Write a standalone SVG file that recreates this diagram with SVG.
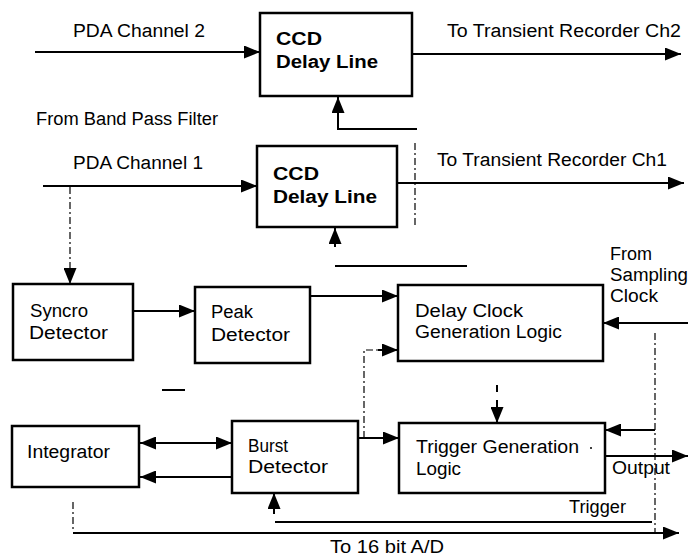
<svg xmlns="http://www.w3.org/2000/svg" width="688" height="557" viewBox="0 0 688 557">
<defs>
<marker id="ah" markerUnits="userSpaceOnUse" markerWidth="17" markerHeight="13" refX="16" refY="6.5" orient="auto-start-reverse">
<path d="M0,0 L16,6.5 L0,13 z" fill="#000"/>
</marker>
</defs>
<style>
.box{fill:#fff;stroke:#000;stroke-width:2.5}
.t{font-family:"Liberation Sans",Arial,sans-serif;font-size:18px;fill:#000}
.b{font-weight:bold;font-size:18px}
.w{fill:none;stroke:#000;stroke-width:2}
.d{fill:none;stroke:#000;stroke-width:1.2;stroke-dasharray:7 3 2 3}
.a{marker-end:url(#ah)}
.s{marker-start:url(#ah)}
</style>
<rect width="688" height="557" fill="#fff"/>

<g id="connectors">
<line class="w a" x1="35" y1="52" x2="260" y2="52"/>
<line class="w a" x1="412" y1="54" x2="681" y2="54"/>
<line class="w a" x1="43" y1="186" x2="257" y2="186"/>
<line class="w a" x1="397" y1="183" x2="684" y2="183"/>
<path class="w" d="M338,118 V129 H417"/>
<line class="w a" x1="338" y1="118" x2="338" y2="97"/>
<line class="d" x1="415" y1="143" x2="415" y2="228"/>
<line class="w a" x1="335" y1="247" x2="335" y2="228"/>
<line class="w" x1="335" y1="266" x2="467" y2="266"/>
<line class="d a" x1="70" y1="187" x2="70" y2="284"/>
<line class="w a" x1="133" y1="311" x2="195" y2="311"/>
<line class="w a" x1="310" y1="296" x2="398" y2="296"/>
<line class="w a" x1="688" y1="323" x2="603" y2="323"/>
<path class="d" d="M364,438 V350 H380"/>
<line class="w a" x1="378" y1="350" x2="398" y2="350"/>
<line class="w" x1="162" y1="390" x2="185" y2="390"/>
<line class="w" x1="497" y1="385" x2="497" y2="392"/>
<line class="w a" x1="497" y1="400" x2="497" y2="423"/>
<line class="w a s" x1="140" y1="443" x2="232" y2="443"/>
<line class="w a" x1="232" y1="477" x2="140" y2="477"/>
<line class="w a" x1="358" y1="438" x2="399" y2="438"/>
<line class="d" x1="655" y1="333" x2="655" y2="534"/>
<line class="w a" x1="655" y1="430" x2="605" y2="430"/>
<line class="w a" x1="605" y1="456" x2="688" y2="456"/>
<line class="w" x1="275" y1="522" x2="652" y2="522"/>
<line class="w a" x1="274" y1="514" x2="274" y2="493"/>
<line class="d" x1="73" y1="502" x2="73" y2="532"/>
<line class="w a" x1="73" y1="533" x2="679" y2="533"/>
</g>

<g id="ccd2">
<rect class="box" x="260" y="13" width="152" height="83"/>
<text class="t b" x="276" y="45" textLength="46" lengthAdjust="spacingAndGlyphs">CCD</text>
<text class="t b" x="276" y="68" textLength="102" lengthAdjust="spacingAndGlyphs">Delay Line</text>
</g>
<g id="ccd1">
<rect class="box" x="257" y="146" width="140" height="81"/>
<text class="t b" x="273" y="180" textLength="46" lengthAdjust="spacingAndGlyphs">CCD</text>
<text class="t b" x="273" y="203" textLength="104" lengthAdjust="spacingAndGlyphs">Delay Line</text>
</g>
<g id="syncro">
<rect class="box" x="13" y="284" width="120" height="76"/>
<text class="t" x="30" y="317" textLength="58" lengthAdjust="spacingAndGlyphs">Syncro</text>
<text class="t" x="29" y="339" textLength="79" lengthAdjust="spacingAndGlyphs">Detector</text>
</g>
<g id="peak">
<rect class="box" x="195" y="287" width="115" height="76"/>
<text class="t" x="211" y="318" textLength="42" lengthAdjust="spacingAndGlyphs">Peak</text>
<text class="t" x="211" y="341" textLength="79" lengthAdjust="spacingAndGlyphs">Detector</text>
</g>
<g id="delayclock">
<rect class="box" x="398" y="285" width="205" height="76"/>
<text class="t" x="415" y="317" textLength="108" lengthAdjust="spacingAndGlyphs">Delay Clock</text>
<text class="t" x="415" y="338" textLength="147" lengthAdjust="spacingAndGlyphs">Generation Logic</text>
</g>
<g id="integrator">
<rect class="box" x="12" y="426" width="127" height="61"/>
<text class="t" x="27" y="458" textLength="83" lengthAdjust="spacingAndGlyphs">Integrator</text>
</g>
<g id="burst">
<rect class="box" x="232" y="421" width="126" height="72"/>
<text class="t" x="248" y="452" textLength="40" lengthAdjust="spacingAndGlyphs">Burst</text>
<text class="t" x="248" y="473" textLength="80" lengthAdjust="spacingAndGlyphs">Detector</text>
</g>
<g id="trigger">
<rect class="box" x="399" y="423" width="206" height="70"/>
<text class="t" x="416" y="453" textLength="163" lengthAdjust="spacingAndGlyphs">Trigger Generation</text>
<text class="t" x="416" y="475" textLength="45" lengthAdjust="spacingAndGlyphs">Logic</text>
<circle cx="591" cy="448" r="1" fill="#000"/>
</g>

<g id="labels">
<text class="t" x="73" y="37" textLength="132" lengthAdjust="spacingAndGlyphs">PDA Channel 2</text>
<text class="t" x="447" y="37" textLength="234" lengthAdjust="spacingAndGlyphs">To Transient Recorder Ch2</text>
<text class="t" x="36" y="125" textLength="182" lengthAdjust="spacingAndGlyphs">From Band Pass Filter</text>
<text class="t" x="73" y="169" textLength="130" lengthAdjust="spacingAndGlyphs">PDA Channel 1</text>
<text class="t" x="437" y="166" textLength="230" lengthAdjust="spacingAndGlyphs">To Transient Recorder Ch1</text>
<text class="t" x="610" y="260" textLength="42" lengthAdjust="spacingAndGlyphs">From</text>
<text class="t" x="610" y="281" textLength="78" lengthAdjust="spacingAndGlyphs">Sampling</text>
<text class="t" x="610" y="302" textLength="48" lengthAdjust="spacingAndGlyphs">Clock</text>
<text class="t" x="612" y="474" textLength="58" lengthAdjust="spacingAndGlyphs">Output</text>
<text class="t" x="569" y="513" textLength="57" lengthAdjust="spacingAndGlyphs">Trigger</text>
<text class="t" x="330" y="553" textLength="114" lengthAdjust="spacingAndGlyphs">To 16 bit A/D</text>
</g>
</svg>
